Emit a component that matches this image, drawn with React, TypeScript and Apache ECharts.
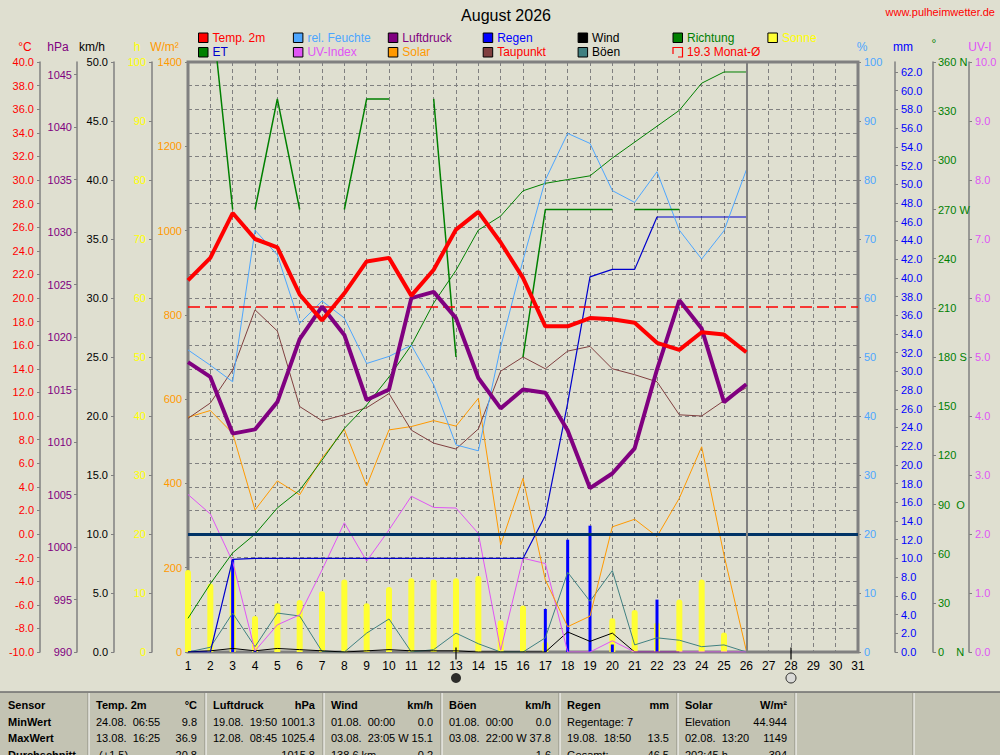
import React, { useEffect, useRef } from "react";
import * as echarts from "echarts";

// ---------- data ----------
const chartTitle = "August 2026";
const siteUrl = "www.pulheimwetter.de";
const monthMeanTemp = 19.3;
const newMoonDays = [13];
const fullMoonDays = [28];

const tempAvg = [21.5, 23.4, 27.2, 25.0, 24.3, 20.3, 18.1, 20.4, 23.1, 23.4, 20.2, 22.4, 25.8, 27.3, 24.7, 21.7, 17.6, 17.6, 18.3, 18.2, 17.9, 16.2, 15.6, 17.1, 16.9, 15.4];
const dewPoint = [9.8, 11.1, 13.9, 19.0, 17.2, 10.8, 9.6, 10.1, 10.7, 11.9, 8.8, 7.7, 7.2, 8.9, 13.8, 15.0, 14.0, 15.5, 15.9, 14.0, 13.5, 12.9, 10.1, 10.0, 11.3, 12.4];
const pressure = [1017.6, 1016.2, 1010.8, 1011.2, 1013.8, 1019.8, 1022.9, 1020.2, 1014.0, 1015.0, 1023.7, 1024.3, 1021.8, 1016.1, 1013.2, 1015.0, 1014.7, 1011.1, 1005.6, 1007.0, 1009.4, 1016.9, 1023.5, 1020.8, 1013.8, 1015.5];
const humidity = [51.2, 48.6, 45.8, 71.5, 67.3, 55.7, 59.5, 56.6, 48.9, 50.1, 52.0, 45.3, 35.1, 34.1, 51.7, 66.4, 80.0, 87.9, 86.2, 78.2, 76.2, 81.4, 71.5, 66.6, 71.4, 81.7];
const solar = [557, 573, 519, 337, 406, 373, 460, 528, 394, 527, 535, 549, 536, 602, 254, 412, 171, 60, 85, 297, 315, 274, 365, 487, 230, 3];
const uvIndex = [2.67, 2.34, 1.53, 0.02, 0.46, 0.63, 1.39, 2.19, 1.54, 2.07, 2.64, 2.45, 2.44, 2.01, 0.03, 1.59, 1.5, 0, 0, 0.19, 0, 0, 0, 0, 0, 0];
const evapo = [3.6, 7.3, 10.6, 12.6, 15.4, 17.3, 20.5, 23.9, 26.4, 29.4, 32.8, 37.3, 40.8, 45.1, 46.6, 49.3, 50.1, 50.5, 50.9, 52.8, 54.5, 56.2, 57.9, 60.8, 62.0, 62.0];
const rainDaily = [0, 0, 9.9, 0.1, 0, 0, 0, 0, 0, 0, 0, 0, 0, 0, 0, 0, 4.6, 12.0, 13.5, 0.8, 0, 5.6, 0, 0, 0, 0];
const rainTotal = [0, 0, 9.9, 10.0, 10.0, 10.0, 10.0, 10.0, 10.0, 10.0, 10.0, 10.0, 10.0, 10.0, 10.0, 10.0, 14.6, 26.6, 40.1, 40.9, 40.9, 46.5, 46.5, 46.5, 46.5, 46.5];
const wind = [0, 0.1, 0.3, 0.1, 0.3, 0.2, 0.1, 0, 0.1, 0.2, 0.1, 0.1, 0.1, 0, 0, 0, 0, 1.7, 0.9, 1.6, 0, 0, 0, null, null, null];
const gusts = [0, 0.4, 3.3, 0.45, 3.3, 3.05, 0.05, 0, 1.6, 2.8, 0, 0.2, 1.6, 0.7, 0, 0, 1.2, 6.75, 4.3, 6.9, 0.6, 1.2, 1.0, 0.45, 0.6, 0];
const sunshine = [13.9, 11.6, 14.5, 6.1, 8.25, 8.8, 10.3, 12.3, 8.25, 11.0, 12.5, 12.3, 12.5, 12.9, 5.4, 7.9, 1.75, 0, 0, 5.7, 7.1, 5.0, 8.9, 12.3, 3.3, 0];
const direction = [null, 400, 270, 270, 337.5, 270, null, 270, 337.5, 337.5, null, 337.5, 180, null, null, 180, 270, 270, 270, 270, 270, 270, 270, null, null, null];
const directionBreaksAfter = [3, 20];

const pressureTicks = [990, 995, 1000, 1005, 1010, 1015, 1020, 1025, 1030, 1035, 1040, 1045];
const rainTicks = [0, 2, 4, 6, 8, 10, 12, 14, 16, 18, 20, 22, 24, 26, 28, 30, 32, 34, 36, 38, 40, 42, 44, 46, 48, 50, 52, 54, 56, 58, 60, 62];
const directionLabels: Record<number, string> = {
  0: "0\u00a0\u00a0\u00a0\u00a0N",
  90: "90\u00a0\u00a0O",
  180: "180\u00a0S",
  270: "270\u00a0W",
  360: "360\u00a0N",
};

const tableHead = [["Sensor", ""], ["Temp. 2m", "°C"], ["Luftdruck", "hPa"], ["Wind", "km/h"], ["Böen", "km/h"], ["Regen", "mm"], ["Solar", "W/m²"]];
const tableRowLabels = ["MinWert", "MaxWert", "Durchschnitt"];
const tempCells = [["24.08.\u00a0 06:55", "9.8"], ["13.08.\u00a0 16:25", "36.9"], ["\u00a0(+1.5)", "20.8"]];
const pressureCells = [["19.08.\u00a0 19:50", "1001.3"], ["12.08.\u00a0 08:45", "1025.4"], ["", "1015.8"]];
const windCells = [["01.08.\u00a0 00:00", "0.0"], ["03.08.\u00a0 23:05", "W 15.1"], ["138.6 km", "0.2"]];
const gustCells = [["01.08.\u00a0 00:00", "0.0"], ["03.08.\u00a0 22:00", "W 37.8"], ["", "1.6"]];
const rainCells = [["Regentage: 7", ""], ["19.08.\u00a0 18:50", "13.5"], ["Gesamt:", "46.5"]];
const solarCells = [["Elevation", "44.944"], ["02.08.\u00a0 13:20", "1149"], ["202:45 h", "394"]];
const tableColumns = [tempCells, pressureCells, windCells, gustCells, rainCells, solarCells];

// ---------- styling / layout ----------
const FONT = "'Liberation Sans', Arial, sans-serif";
const BG = "#DFDFD0";
const GRAY = "#808080";
const C = {
  temp: "#FF0000",
  hum: "#4DA6FF",
  press: "#800080",
  rain: "#0000FF",
  rainLine: "#0000CC",
  wind: "#000000",
  dir: "#008000",
  sun: "#FFFF33",
  et: "#008000",
  uv: "#E055F5",
  solar: "#FF9900",
  dew: "#804040",
  gust: "#408080",
};

const legendRow1 = [
  { name: "Temp. 2m", box: C.temp, text: C.temp },
  { name: "rel. Feuchte", box: C.hum, text: C.hum },
  { name: "Luftdruck", box: C.press, text: C.press },
  { name: "Regen", box: C.rain, text: C.rain },
  { name: "Wind", box: C.wind, text: "#000000" },
  { name: "Richtung", box: C.dir, text: C.dir },
  { name: "Sonne", box: C.sun, text: "#FFFF00" },
];
const legendRow2 = [
  { name: "ET", box: C.et, text: "#0000CC" },
  { name: "UV-Index", box: C.uv, text: C.uv },
  { name: "Solar", box: C.solar, text: C.solar },
  { name: "Taupunkt", box: C.dew, text: "#FF0000" },
  { name: "Böen", box: C.gust, text: "#000000" },
  { name: `${monthMeanTemp} Monat-Ø`, box: null, text: "#FF0000" },
];

const pairs = (arr: (number | null)[]) => arr.map((v, i) => [i + 1, v]);
const lastDay = tempAvg.length;

function buildDirection() {
  const out: (number | null)[][] = [];
  direction.forEach((v, i) => {
    const d = i + 1;
    out.push([d, v]);
    if (directionBreaksAfter.includes(d)) out.push([d + 0.5, null]);
  });
  return out;
}

function txt(text: string, x: number, y: number, fill: string, size = 12, align = "left", weight = "normal") {
  return {
    type: "text",
    x,
    y,
    silent: true,
    style: {
      text,
      fill,
      fontSize: size,
      fontFamily: FONT,
      fontWeight: weight,
      align,
      verticalAlign: "middle",
      textAlign: align,
      textVerticalAlign: "middle",
    },
  };
}

function buildGraphic() {
  const els: any[] = [];
  els.push(txt(chartTitle, 506, 15, "#000", 16, "center"));
  els.push(txt(siteUrl, 995, 12, "#FF0000", 11, "right"));

  // axis titles
  [["°C", 25, C.temp], ["hPa", 58, C.press], ["km/h", 92, "#000"], ["h", 137, "#FFFF00"], ["W/m²", 164.5, C.solar],
   ["%", 862, C.hum], ["mm", 903, "#0000FF"], ["°", 934, C.dir], ["UV-I", 980, C.uv]].forEach(([t, x, c]) => {
    els.push(txt(t as string, x as number, t === "°" ? 44 : 47, c as string, 12, "center"));
  });

  // legend
  const colStep = 94.9;
  [legendRow1, legendRow2].forEach((row, r) => {
    const yc = r === 0 ? 37.5 : 52;
    row.forEach((it, i) => {
      const bx = 198.5 + i * colStep;
      if (it.box) {
        els.push({ type: "rect", silent: true, shape: { x: bx, y: yc - 4.5, width: 9.5, height: 9.5 }, style: { fill: it.box, stroke: "#000", lineWidth: 1 } });
      } else {
        els.push({ type: "polyline", silent: true, shape: { points: [[bx, yc + 2], [bx, yc - 4.5], [bx + 9.5, yc - 4.5], [bx + 9.5, yc + 5], [bx + 5, yc + 5]] }, style: { stroke: "#FF0000", lineWidth: 1.2, fill: "none" } });
      }
      els.push(txt(it.name, bx + 14, yc, it.text, 12, "left"));
    });
  });

  // table
  const colX = [0, 88, 205, 323, 441, 559, 677, 795, 913, 1000];
  const rowY = [705, 721.5, 738, 754.5];
  els.push({ type: "rect", silent: true, shape: { x: 0, y: 692, width: 1000, height: 63 }, style: { fill: "#C3C3B3" } });
  els.push({ type: "line", silent: true, shape: { x1: 0, y1: 692, x2: 1000, y2: 692 }, style: { stroke: "#6E6E6E", lineWidth: 1.5 } });
  colX.slice(1, -1).forEach((x) => {
    els.push({ type: "line", silent: true, shape: { x1: x, y1: 693, x2: x, y2: 755 }, style: { stroke: "#8C8C80", lineWidth: 1 } });
    els.push({ type: "line", silent: true, shape: { x1: x + 1, y1: 693, x2: x + 1, y2: 755 }, style: { stroke: "#FFFFFF", lineWidth: 1 } });
  });
  tableHead.forEach(([l, r], c) => {
    els.push(txt(l, colX[c] + 8, rowY[0], "#000", 11, "left", "bold"));
    if (r) els.push(txt(r, colX[c + 1] - 8, rowY[0], "#000", 11, "right", "bold"));
  });
  tableRowLabels.forEach((l, i) => els.push(txt(l, 8, rowY[i + 1], "#000", 11, "left", "bold")));
  tableColumns.forEach((cells, ci) => {
    const c = ci + 1;
    cells.forEach(([l, r], ri) => {
      if (l) els.push(txt(l, colX[c] + 8, rowY[ri + 1], "#000", 11, "left"));
      if (r) els.push(txt(r, colX[c + 1] - 8, rowY[ri + 1], "#000", 11, "right"));
    });
  });
  return els;
}

function yAx(o: any) {
  return {
    type: "value",
    position: o.pos,
    offset: o.offset,
    min: o.min,
    max: o.max,
    interval: o.interval,
    axisLine: { show: true, onZero: false, lineStyle: { color: GRAY, width: 1.5 } },
    axisTick: { show: true, length: 3, lineStyle: { color: GRAY }, customValues: o.custom },
    axisLabel: { color: o.color, fontSize: 11, fontFamily: FONT, margin: o.margin ?? 6, formatter: o.fmt, customValues: o.custom },
    splitLine: { show: !!o.split, lineStyle: { color: GRAY, type: [4, 3], width: 1 } },
  };
}

function lineS(name: string, data: any[], yAxisIndex: number, color: string, width: number, z: number, extra: any = {}) {
  return {
    name,
    type: "line",
    data,
    xAxisIndex: 0,
    yAxisIndex,
    symbol: "none",
    showSymbol: false,
    connectNulls: false,
    lineStyle: { color, width },
    itemStyle: { color },
    z,
    ...extra,
  };
}

const fix1 = (v: number) => v.toFixed(1);

function buildOption() {
  return {
    animation: false,
    backgroundColor: BG,
    textStyle: { fontFamily: FONT },
    grid: { left: 188, right: 142, top: 62, bottom: 103, show: true, borderColor: GRAY, borderWidth: 3, backgroundColor: "transparent" },
    xAxis: [
      {
        type: "value", min: 1, max: 31, interval: 1, position: "bottom",
        axisLine: { show: false }, axisTick: { show: false },
        axisLabel: { color: "#000", fontSize: 12, fontFamily: FONT, margin: 8 },
        splitLine: { show: true, lineStyle: { color: GRAY, type: [4, 3], width: 1 } },
      },
      { type: "value", min: 1, max: 31, show: false },
    ],
    yAxis: [
      yAx({ pos: "left", offset: 148, min: -10, max: 40, interval: 2, color: C.temp, fmt: fix1, split: true }),
      yAx({ pos: "left", offset: 111, min: 990, max: 990 + 590 / 10.5, color: C.press, custom: pressureTicks, fmt: (v: number) => String(Math.round(v)), margin: 5 }),
      yAx({ pos: "left", offset: 74, min: 0, max: 50, interval: 5, color: "#000", fmt: fix1 }),
      yAx({ pos: "left", offset: 36, min: 0, max: 100, interval: 10, color: "#FFFF00", fmt: (v: number) => String(v) }),
      yAx({ pos: "left", offset: 0, min: 0, max: 1400, interval: 200, color: C.solar, fmt: (v: number) => String(v) }),
      yAx({ pos: "right", offset: 0, min: 0, max: 100, interval: 10, color: C.hum, fmt: (v: number) => String(v) }),
      yAx({ pos: "right", offset: 37, min: 0, max: 590 / 9.355, color: "#0000FF", custom: rainTicks, fmt: fix1 }),
      yAx({ pos: "right", offset: 75, min: 0, max: 360, interval: 30, color: C.dir, fmt: (v: number) => directionLabels[v] ?? String(v), margin: 5 }),
      yAx({ pos: "right", offset: 111, min: 0, max: 10, interval: 1, color: C.uv, fmt: fix1 }),
    ],
    graphic: { elements: buildGraphic() },
    series: [
      {
        name: "Sonne", type: "bar", xAxisIndex: 0, yAxisIndex: 3, data: pairs(sunshine), barWidth: 6,
        itemStyle: { color: C.sun, borderRadius: [3, 3, 0, 0] }, z: 1,
      },
      {
        name: "Regen Tag", type: "bar", xAxisIndex: 1, yAxisIndex: 6, data: pairs(rainDaily), barWidth: 3,
        itemStyle: { color: C.rain }, z: 2,
      },
      lineS("Böen", pairs(gusts), 2, C.gust, 1, 3),
      lineS("Wind", pairs(wind), 2, C.wind, 1, 3),
      lineS("UV-Index", pairs(uvIndex), 8, C.uv, 1, 3),
      lineS("Solar", pairs(solar), 4, C.solar, 1, 3),
      lineS("Taupunkt", pairs(dewPoint), 0, C.dew, 1, 3),
      lineS("ET", pairs(evapo), 6, C.et, 1, 3),
      lineS("Regen", pairs(rainTotal), 6, C.rainLine, 1.2, 3),
      lineS("rel. Feuchte", pairs(humidity), 5, C.hum, 1, 4),
      lineS("Richtung", buildDirection(), 7, C.dir, 1.5, 4),
      lineS("Luftdruck", pairs(pressure), 1, C.press, 4, 5),
      lineS("Temp. 2m", pairs(tempAvg), 0, C.temp, 4, 6, {
        markLine: {
          silent: true,
          symbol: ["none", "none"],
          label: { show: false },
          data: [
            { yAxis: monthMeanTemp, lineStyle: { color: "#FF0000", type: [12, 5], width: 1.5 } },
            { yAxis: 0, lineStyle: { color: "#003366", type: "solid", width: 3 } },
            { xAxis: lastDay, lineStyle: { color: GRAY, type: "solid", width: 2 } },
          ],
        },
      }),
      {
        name: "moon ticks", type: "scatter", xAxisIndex: 0, yAxisIndex: 0, clip: false, silent: true,
        data: [...newMoonDays, ...fullMoonDays].map((d) => [d, -10]),
        symbol: "rect", symbolSize: [1.5, 12], symbolOffset: [0, 1.5], itemStyle: { color: "#000" }, z: 10,
      },
      {
        name: "Neumond", type: "scatter", xAxisIndex: 0, yAxisIndex: 0, clip: false, silent: true,
        data: newMoonDays.map((d) => [d, -10]),
        symbol: "circle", symbolSize: 10, symbolOffset: [0, 26], itemStyle: { color: "#000" }, z: 10,
      },
      {
        name: "Vollmond", type: "scatter", xAxisIndex: 0, yAxisIndex: 0, clip: false, silent: true,
        data: fullMoonDays.map((d) => [d, -10]),
        symbol: "circle", symbolSize: 10, symbolOffset: [0, 26], itemStyle: { color: "#D8D8D8", borderColor: "#000", borderWidth: 1 }, z: 10,
      },
    ],
  };
}

export default function App() {
  const ref = useRef<HTMLDivElement>(null);
  useEffect(() => {
    const chart = echarts.init(ref.current as HTMLDivElement, null, { renderer: "svg" });
    chart.setOption(buildOption() as any);
    return () => chart.dispose();
  }, []);
  return <div ref={ref} style={{ position: "absolute", left: 0, top: 0, width: 1000, height: 755 }} />;
}
